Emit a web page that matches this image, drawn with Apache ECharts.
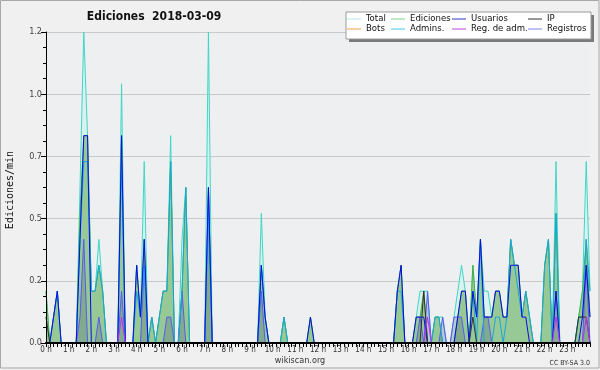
<!DOCTYPE html>
<html><head><meta charset="utf-8">
<script src="https://cdn.jsdelivr.net/npm/echarts@6/dist/echarts.min.js"></script>
<style>html,body{margin:0;padding:0;background:#ffffff}#c{width:600px;height:370px}</style>
</head><body><div id="c"></div>
<script>
// ---- data: edits per minute, 10-minute bins (index 0 = 00:00, 144 = 24:00) ----
const binMinutes = 10;
const xTickLabels = ['0 h','1 h','2 h','3 h','4 h','5 h','6 h','7 h','8 h','9 h','10 h','11 h',
  '12 h','13 h','14 h','15 h','16 h','17 h','18 h','19 h','20 h','21 h','22 h','23 h'];
const yTickLabels = ['0.0','0.2','0.5','0.7','1.0','1.2'];

const total = [
 .2,0,.1,.2,0,0,   0,0,0,.6,1.2,.8,   .2,.2,.4,.2,0,0,   0,0,1.0,0,0,0,
 .3,.1,.7,0,.1,0,  .1,.2,.2,.8,0,0,   .4,.6,0,0,0,0,     0,1.2,0,0,0,0,
 0,0,0,0,0,0,      0,0,0,.5,.1,0,     0,0,0,.1,0,0,      0,0,0,0,.1,0,
 0,0,0,0,0,0,      0,0,0,0,0,0,       0,0,0,0,0,0,       0,0,0,.2,.3,0,
 0,0,.1,.2,.2,.2,  0,.1,.1,.1,0,0,    .1,.2,.3,.2,0,.3,  .1,.4,.2,.2,.1,.2,
 .2,.1,.1,.4,.3,.3,.1,.2,.1,0,0,0,    .3,.4,0,.7,0,0,    0,0,0,.1,.2,.7,
 .2];
const ediciones = [
 .2,0,.1,.2,0,0,   0,0,0,.5,.8,.8,    .2,.2,.3,.2,0,0,   0,0,.8,0,0,0,
 .3,.1,.4,0,.1,0,  .1,.2,.2,.7,0,0,   .2,.6,0,0,0,0,     0,.6,0,0,0,0,
 0,0,0,0,0,0,      0,0,0,.3,.1,0,     0,0,0,.1,0,0,      0,0,0,0,.1,0,
 0,0,0,0,0,0,      0,0,0,0,0,0,       0,0,0,0,0,0,       0,0,0,.2,.3,0,
 0,0,.1,.1,.2,0,   0,.1,.1,0,0,0,     0,.1,.2,.2,0,.3,   .1,.4,.1,.1,.1,.2,
 .2,.1,.1,.4,.3,.3,.1,.2,.1,0,0,0,    .3,.4,0,.5,0,0,    0,0,0,.1,.2,.4,
 .1];
const usuarios = [
 0,0,.1,.2,0,0,    0,0,0,.4,.8,.8,    0,0,0,0,0,0,       0,0,.8,0,0,0,
 .3,.1,.4,0,0,0,   0,0,0,0,0,0,       0,0,0,0,0,0,       0,.6,0,0,0,0,
 0,0,0,0,0,0,      0,0,0,.3,.1,0,     0,0,0,0,0,0,       0,0,0,0,.1,0,
 0,0,0,0,0,0,      0,0,0,0,0,0,       0,0,0,0,0,0,       0,0,0,.2,.3,0,
 0,0,.1,.1,.1,0,   0,0,0,0,0,0,       0,.1,.2,.2,0,.2,   .1,.4,.1,.1,.1,.2,
 .2,.1,.1,.3,.3,.3,.1,.1,0,0,0,0,     0,0,0,.2,0,0,      0,0,0,0,.1,.3,
 .1];
const admins = [
 0,0,.1,.2,0,0,    0,0,0,.4,.7,.7,    .2,.2,.3,.2,0,0,   0,0,.7,0,0,0,
 .2,.1,.3,0,.1,0,  .1,.2,.2,.7,0,0,   .2,.6,0,0,0,0,     0,.5,0,0,0,0,
 0,0,0,0,0,0,      0,0,0,.3,.1,0,     0,0,0,.1,0,0,      0,0,0,0,0,0,
 0,0,0,0,0,0,      0,0,0,0,0,0,       0,0,0,0,0,0,       0,0,0,.2,.2,0,
 0,0,0,0,0,0,      0,.1,.1,0,0,0,     0,0,0,0,0,.2,      0,.4,0,0,0,.1,
 .1,0,.1,.4,.3,.2, .1,.2,.1,0,0,0,    .3,.4,0,.5,0,0,    0,0,0,.1,.1,.4,
 .2];
const registros = [
 0,0,0,0,0,0,      0,0,0,.1,.4,0,     0,0,.1,0,0,0,      0,0,.2,0,0,0,
 0,0,.3,0,0,0,     0,0,.1,.1,0,0,     .2,0,0,0,0,0,      0,.6,0,0,0,0,
 0,0,0,0,0,0,      0,0,0,.2,0,0,      0,0,0,0,0,0,       0,0,0,0,0,0,
 0,0,0,0,0,0,      0,0,0,0,0,0,       0,0,0,0,0,0,       0,0,0,0,0,0,
 0,0,0,.1,0,.2,    0,0,0,.1,0,0,      .1,.1,.1,0,0,0,    0,0,.1,.1,0,0,
 0,0,0,0,0,0,      0,0,0,0,0,0,       0,0,0,.2,0,0,      0,0,0,0,0,.3,
 0];
const ip = [
 .1,0,0,0,0,0,     0,0,0,0,0,0,       0,0,0,0,0,0,       0,0,0,0,0,0,
 0,0,0,0,0,0,      0,0,0,0,0,0,       0,0,0,0,0,0,       0,0,0,0,0,0,
 0,0,0,0,0,0,      0,0,0,0,0,0,       0,0,0,0,0,0,       0,0,0,0,0,0,
 0,0,0,0,0,0,      0,0,0,0,0,0,       0,0,0,0,0,0,       0,0,0,0,0,0,
 0,0,0,0,.2,0,     0,0,0,0,0,0,       0,0,0,0,0,.1,      0,0,0,0,0,0,
 0,0,0,0,0,0,      0,0,0,0,0,0,       0,0,0,0,0,0,       0,0,0,.1,.1,.1,
 0];
const regAdm = [
 0,0,0,0,0,0,      0,0,0,0,0,0,       0,0,0,0,0,0,       0,0,.1,0,0,0,
 0,0,0,0,0,0,      0,0,0,0,0,0,       0,0,0,0,0,0,       0,0,0,0,0,0,
 0,0,0,0,0,0,      0,0,0,0,0,0,       0,0,0,0,0,0,       0,0,0,0,0,0,
 0,0,0,0,0,0,      0,0,0,0,0,0,       0,0,0,0,0,0,       0,0,0,0,0,0,
 0,0,0,0,0,.1,     0,0,0,0,0,0,       0,0,0,0,0,0,       0,0,0,0,0,0,
 0,0,0,0,0,0,      0,0,0,0,0,0,       0,0,0,.1,0,0,      0,0,0,0,0,.1,
 0];
const bots = [
 0,0,0,0,0,0,      0,0,0,0,0,0,       0,0,0,0,0,0,       0,0,0,0,0,0,
 0,0,0,0,0,0,      0,0,0,0,0,0,       0,0,0,0,0,0,       0,0,0,0,0,0,
 0,0,0,0,0,0,      0,0,0,0,0,0,       0,0,0,0,0,0,       0,0,0,0,0,0,
 0,0,0,0,0,0,      0,0,0,0,0,0,       0,0,0,0,0,0,       0,0,0,0,0,0,
 0,0,0,0,0,0,      0,0,0,0,0,0,       0,0,0,0,0,0,       0,0,0,0,0,0,
 0,0,0,0,0,0,      0,0,0,0,0,0,       0,0,0,0,0,0,       0,0,0,0,0,0,
 0];

const F = "'DejaVu Sans Condensed','DejaVu Sans',sans-serif";
const pts = arr => arr.map((v, i) => [i * binMinutes / 60, v]);

function lineSeries(name, arr, legendColor, lineColor, z, area) {
  const s = { name, type: 'line', data: pts(arr), symbol: 'none', color: legendColor,
    lineStyle: { color: lineColor, width: 1 }, z, animation: false, silent: true };
  if (area) s.areaStyle = { color: area, opacity: 1 };
  return s;
}

function legendCol(left, items) {
  return { show: true, orient: 'vertical', left, top: 14, padding: 0, itemGap: 0,
    itemWidth: 14, itemHeight: 1, icon: 'rect', selectedMode: false, z: 8,
    textStyle: { fontFamily: F, fontSize: 9.5, color: '#111', lineHeight: 10, height: 10 },
    data: items.map(([n, c]) => ({ name: n, itemStyle: { color: c, borderWidth: 0 }, lineStyle: { width: 0, opacity: 0 } })) };
}

const chart = echarts.init(document.getElementById('c'), null, { renderer: 'canvas' });
chart.setOption({
  animation: false,
  backgroundColor: '#f0f0f0',
  grid: { left: 46, right: 10, top: 32, bottom: 27, show: true, backgroundColor: '#eeeff1', borderWidth: 0 },
  legend: [
    legendCol(347, [['Total', '#b0e8e8'], ['Bots', '#f0a040']]),
    legendCol(391, [['Ediciones', '#80d080'], ['Admins.', '#40c8e0']]),
    legendCol(452, [['Usuarios', '#3030c8'], ['Reg. de adm.', '#c040e0']]),
    legendCol(528, [['IP', '#303030'], ['Registros', '#8080f0']])
  ],
  xAxis: {
    type: 'value', min: 0, max: 24, interval: 1, z: 10,
    axisLine: { lineStyle: { color: '#000', width: 2 } },
    axisTick: { length: 4, lineStyle: { color: '#000' } },
    minorTick: { show: true, splitNumber: 6, length: 4, lineStyle: { color: '#000' } },
    splitLine: { show: false },
    axisLabel: { fontFamily: F, fontSize: 8, color: '#333', margin: 3, showMaxLabel: false,
      formatter: (v) => xTickLabels[Math.round(v)] || '' }
  },
  yAxis: [{
    type: 'value', min: 0, max: 1.2, interval: 0.24, z: 10,
    axisLine: { show: true, lineStyle: { color: '#000', width: 1 } },
    axisTick: { show: true, length: 5, lineStyle: { color: '#000' } },
    minorTick: { show: true, splitNumber: 4, length: 3, lineStyle: { color: '#000' } },
    splitLine: { show: false },
    axisLabel: { fontFamily: F, fontSize: 9, color: '#444', margin: 4,
      formatter: (v, i) => yTickLabels[i] }
  }, {
    type: 'value', min: 0, max: 1.2, interval: 0.24, z: 0,
    axisLine: { show: false }, axisTick: { show: false }, axisLabel: { show: false },
    splitLine: { show: true, lineStyle: { color: '#c9c9c9', width: 1 } }
  }],
  series: [
    lineSeries('Total', total, '#b0e8e8', '#3fd6c6', 2, '#d9f1ef'),
    lineSeries('Ediciones', ediciones, '#80d080', '#45b045', 3, '#97c997'),
    lineSeries('Registros', registros, '#8080f0', '#5a5af0', 4, 'rgba(60,60,120,0.22)'),
    lineSeries('Bots', bots, '#f0a040', '#f0a040', 4),
    lineSeries('Admins.', admins, '#40c8e0', '#1aa6dc', 5),
    lineSeries('Usuarios', usuarios, '#3030c8', '#0a0ae6', 6),
    lineSeries('IP', ip, '#303030', '#303030', 7),
    lineSeries('Reg. de adm.', regAdm, '#c040e0', '#c030f0', 8)
  ],
  graphic: [
    { type: 'rect', z: -1, silent: true, shape: { x: 0.5, y: 0.5, width: 598.5, height: 367.5 },
      style: { fill: 'none', stroke: '#a8a8a8', lineWidth: 1 } },
    { type: 'rect', z: 6, silent: true, shape: { x: 349, y: 15, width: 245, height: 27 },
      style: { fill: '#7a7a7a' } },
    { type: 'rect', z: 7, silent: true, shape: { x: 346, y: 12, width: 245, height: 27 },
      style: { fill: '#ffffff', stroke: '#9a9a9a', lineWidth: 1 } },
    { type: 'text', z: 7, silent: true, x: 154, y: 17,
      style: { text: 'Ediciones  2018-03-09', fontFamily: F, fontWeight: 'bold', fontSize: 12,
        fill: '#111', align: 'center', verticalAlign: 'middle' } },
    { type: 'text', z: 7, silent: true, x: 10, y: 190, rotation: Math.PI / 2,
      style: { text: 'Ediciones/min', fontFamily: "'DejaVu Sans Mono',monospace", fontSize: 10,
        fill: '#111', align: 'center', verticalAlign: 'middle' } },
    { type: 'text', z: 7, silent: true, x: 300, y: 361,
      style: { text: 'wikiscan.org', fontFamily: F, fontSize: 9, fill: '#333',
        align: 'center', verticalAlign: 'middle' } },
    { type: 'text', z: 7, silent: true, x: 590, y: 363,
      style: { text: 'CC BY-SA 3.0', fontFamily: F, fontSize: 7, fill: '#333',
        align: 'right', verticalAlign: 'middle' } }
  ]
});
</script>
</body></html>
